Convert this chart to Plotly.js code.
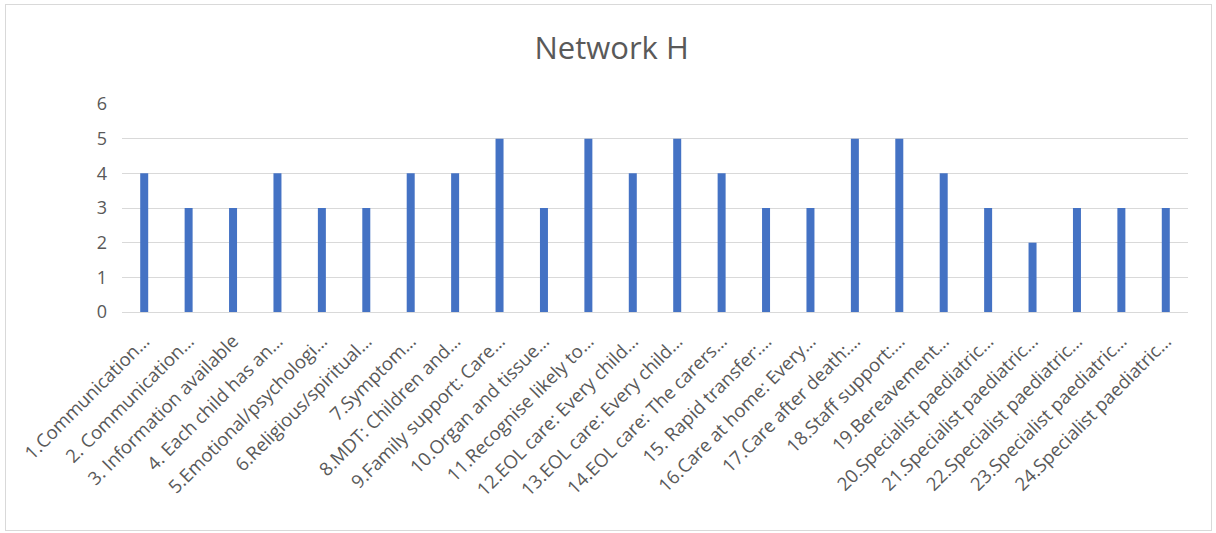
<!DOCTYPE html>
<html>
<head>
<meta charset="utf-8">
<script src="https://cdn.plot.ly/plotly-3.0.1.min.js"></script>
<style>
html,body{margin:0;padding:0;background:#fff;}
#wrap{position:absolute;left:0;top:0;width:1216px;height:533px;}
#frame{position:absolute;left:5px;top:4px;width:1205px;height:525px;border:1px solid #d9d9d9;pointer-events:none;}
</style>
</head>
<body>
<div id="wrap"><div id="chart" style="width:1216px;height:533px;"></div><div id="frame"></div></div>
<script>
const categories = [
  "1.Communication…", "2. Communication…", "3. Information available", "4. Each child has an…",
  "5.Emotional/psychologi…", "6.Religious/spiritual…", "7.Symptom…", "8.MDT: Children and…",
  "9.Family support: Care…", "10.Organ and tissue…", "11.Recognise likely to…", "12.EOL care: Every child…",
  "13.EOL care: Every child…", "14.EOL care: The carers…", "15. Rapid transfer:…", "16.Care at home: Every…",
  "17.Care after death:…", "18.Staff support:…", "19.Bereavement…", "20.Specialist paediatric…",
  "21.Specialist paediatric…", "22.Specialist paediatric…", "23.Specialist paediatric…", "24.Specialist paediatric…"
];
const values = [4,3,3,4,3,3,4,4,5,3,5,4,5,4,3,3,5,5,4,3,2,3,3,3];
const yTicks = [0,1,2,3,4,5,6];

const trace = {
  type: 'bar',
  x: categories,
  y: values,
  marker: {color: '#4472c4'},
  hoverinfo: 'x+y'
};
const layout = {
  width: 1216, height: 533,
  margin: {l: 122, r: 28, t: 104, b: 221},
  paper_bgcolor: 'rgba(0,0,0,0)', plot_bgcolor: '#fff',
  title: {text: 'Network H', x: 0.503, xanchor: 'center', y: 0.91, yanchor: 'middle',
          font: {family: 'Open Sans, sans-serif', size: 31, color: '#595959'}},
  bargap: 0.82,
  showlegend: false,
  xaxis: {
    type: 'category', tickangle: -45, showgrid: false, zeroline: false,
    showline: true, linecolor: '#d9d9d9', linewidth: 1, ticks: '',
    tickfont: {family: 'Open Sans, sans-serif', size: 18.5, color: '#595959'},
    ticklabelstandoff: 10,
    automargin: false
  },
  yaxis: {
    range: [0, 6], tickvals: yTicks, showgrid: true, gridcolor: '#d9d9d9', gridwidth: 1,
    zeroline: false, showline: false, ticks: '', ticklen: 0,
    tickfont: {family: 'Open Sans, sans-serif', size: 18, color: '#595959'},
    ticklabelstandoff: 14,
    automargin: false
  },
  font: {family: 'Open Sans, sans-serif', color: '#595959'}
};
Plotly.newPlot('chart', [trace], layout, {displayModeBar: false, staticPlot: true});
</script>
</body>
</html>
